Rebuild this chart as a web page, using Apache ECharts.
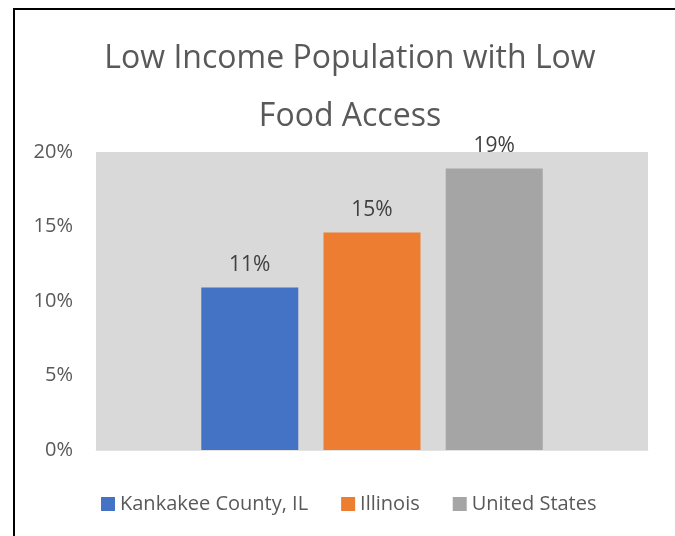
<!DOCTYPE html>
<html>
<head>
<meta charset="utf-8">
<script src="https://cdn.jsdelivr.net/npm/echarts@6/dist/echarts.min.js"></script>
<style>
  html, body { margin: 0; padding: 0; background: #fff; }
  #chart { width: 675px; height: 536px; }
</style>
</head>
<body>
<div id="chart"></div>
<script>
const seriesNames = ['Kankakee County, IL', 'Illinois', 'United States'];
const seriesValues = [0.109, 0.146, 0.189];
const seriesColors = ['#4472c4', '#ed7d31', '#a5a5a5'];
const yTicks = [0, 0.05, 0.1, 0.15, 0.2];

const font = '"Open Sans", "Noto Sans", sans-serif';

const pct = v => Math.round(v * 100) + '%';

const series = seriesNames.map((name, i) => ({
    name: name,
    type: 'bar',
    data: [seriesValues[i]],
    barWidth: 97,
    barGap: '26%',
    itemStyle: { color: seriesColors[i] },
    label: {
        show: true,
        position: 'top',
        distance: 12,
        formatter: p => pct(p.value),
        color: '#404040',
        fontSize: 21,
        fontFamily: font
    }
}));

const option = {
    animation: false,
    title: {
        text: 'Low Income Population with Low\nFood Access',
        left: 345,
        top: 25,
        textAlign: 'center',
        textStyle: {
            color: '#595959',
            fontSize: 32,
            fontWeight: 'normal',
            fontFamily: font,
            lineHeight: 58
        }
    },
    graphic: [{
        type: 'rect',
        shape: { x: 14, y: 9, width: 700, height: 600 },
        style: { fill: 'none', stroke: '#000', lineWidth: 2 },
        silent: true
    }],
    legend: {
        data: seriesNames,
        left: 96,
        top: 489,
        itemWidth: 14,
        itemHeight: 14,
        itemGap: 33,
        icon: 'rect',
        textStyle: { color: '#595959', fontSize: 20, fontFamily: font }
    },
    grid: {
        left: 96,
        right: 27,
        top: 152,
        bottom: 86,
        show: true,
        backgroundColor: '#d9d9d9',
        borderWidth: 0
    },
    xAxis: {
        type: 'category',
        data: [''],
        axisLine: { show: true, lineStyle: { color: '#e3e3e3' } },
        axisTick: { show: false },
        axisLabel: { show: false }
    },
    yAxis: {
        type: 'value',
        min: yTicks[0],
        max: yTicks[yTicks.length - 1],
        interval: 0.05,
        splitLine: { show: false },
        axisLine: { show: false },
        axisTick: { show: false },
        axisLabel: {
            formatter: v => pct(v),
            color: '#595959',
            fontSize: 20,
            fontFamily: font,
            margin: 23
        }
    },
    series: series
};

echarts.init(document.getElementById('chart')).setOption(option);
</script>
</body>
</html>
